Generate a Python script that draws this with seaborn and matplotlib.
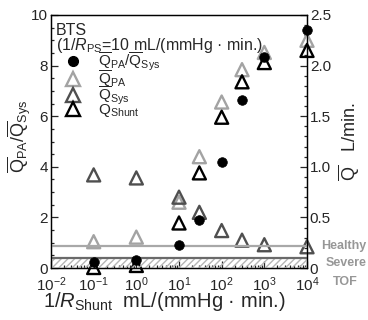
import numpy as np
import pandas as pd
import matplotlib
matplotlib.use("Agg")
import matplotlib.pyplot as plt
from matplotlib.lines import Line2D
from matplotlib.ticker import MultipleLocator, FixedLocator, FixedFormatter, LogLocator, NullFormatter
import seaborn as sns

# ---- data ----
shunt = [0.1, 1, 10, 30, 100, 300, 1000, 10000]          # 1/R_Shunt  mL/(mmHg·min.)
ratio = [0.25, 0.30, 0.90, 1.90, 4.19, 6.64, 8.34, 9.40]  # Q_PA/Q_Sys
q_pa = [0.26, 0.305, 0.65, 1.10, 1.64, 1.96, 2.13, 2.25]  # L/min
q_sys = [0.92, 0.89, 0.70, 0.55, 0.37, 0.275, 0.23, 0.21]
q_shunt = [0.005, 0.025, 0.445, 0.94, 1.49, 1.84, 2.03, 2.15]
healthy_level = 0.85
severe_level = 0.4
left_ticks = [0, 2, 4, 6, 8, 10]
right_ticks = [0, 0.5, 1.0, 1.5, 2.0, 2.5]
right_ticklabels = ["0", "0.5", "1.0", "1.5", "2.0", "2.5"]

df = pd.DataFrame({"shunt": shunt, "ratio": ratio, "q_pa": q_pa,
                   "q_sys": q_sys, "q_shunt": q_shunt})

sns.set_style("ticks")
plt.rcParams["font.family"] = ["Liberation Sans", "DejaVu Sans"]
plt.rcParams["mathtext.fontset"] = "custom"
plt.rcParams["mathtext.rm"] = "Liberation Sans"
plt.rcParams["mathtext.it"] = "Liberation Sans:italic"
plt.rcParams["mathtext.bf"] = "Liberation Sans:bold"

W, H = 368, 320
fig = plt.figure(figsize=(W / 100, H / 100), dpi=100)
ax = fig.add_axes([51 / W, 1 - 268 / H, 256 / W, 253 / H])
ax2 = ax.twinx()

C_PA = "#a3a3a3"
C_SYS = "#4f4f4f"
C_SH = "#000000"

# Q series on right axis (L/min)
for col, c in [("q_pa", C_PA), ("q_sys", C_SYS), ("q_shunt", C_SH)]:
    sns.scatterplot(data=df, x="shunt", y=col, ax=ax2, marker="^", s=88,
                    facecolor="none", edgecolor=c, linewidth=1.7,
                    clip_on=False, zorder=3, legend=False)

# reference levels + ratio on left axis
ax.axhspan(0, severe_level, facecolor="none", hatch="/////",
           edgecolor="#b5b5b5", linewidth=0, zorder=1)
ax.axhline(severe_level, color="#6a6a6a", lw=1.6, zorder=2)
ax.axhline(healthy_level, color="#a8a8a8", lw=1.6, zorder=2)
sns.scatterplot(data=df, x="shunt", y="ratio", ax=ax, marker="o", s=48,
                color="black", edgecolor="black", linewidth=0.5,
                clip_on=False, zorder=5, legend=False)

ax.set_zorder(ax2.get_zorder() + 1)
ax.patch.set_visible(False)

ax.set_xscale("log")
ax.set_xlim(1e-2, 1e4)
ax.set_ylim(0, 10)
ax2.set_ylim(0, 2.5)

ax.xaxis.set_major_locator(LogLocator(base=10, numticks=10))
ax.xaxis.set_minor_locator(LogLocator(base=10, subs=np.arange(2, 10), numticks=20))
ax.xaxis.set_minor_formatter(NullFormatter())
ax.yaxis.set_major_locator(FixedLocator(left_ticks))
ax.yaxis.set_minor_locator(MultipleLocator(0.5))
ax2.yaxis.set_major_locator(FixedLocator(right_ticks))
ax2.yaxis.set_major_formatter(FixedFormatter(right_ticklabels))
ax2.yaxis.set_minor_locator(MultipleLocator(0.1))

ax.tick_params(axis="both", which="both", direction="in", top=False, right=False,
               labelsize=11, width=0.9, pad=2)
ax.tick_params(axis="x", which="major", pad=5)
ax.tick_params(which="major", length=5)
ax.tick_params(which="minor", length=2.5)
ax2.tick_params(axis="y", which="both", direction="in", labelsize=11, width=0.9, pad=2)
ax2.tick_params(which="major", length=5)
ax2.tick_params(which="minor", length=2.5)
for a in (ax, ax2):
    for s in a.spines.values():
        s.set_visible(True)
        s.set_linewidth(0.9)
        s.set_color("black")

ax.set_xlabel(r"1/$R_{\mathrm{Shunt}}$  mL/(mmHg · min.)", fontsize=14.5)
ax.xaxis.set_label_coords(0.443, -0.085)
ax.set_ylabel(r"$\overline{\mathrm{Q}}_{\mathrm{PA}}/\overline{\mathrm{Q}}_{\mathrm{Sys}}$", fontsize=13)
ax.yaxis.set_label_coords(-0.07, 0.52)
ax2.set_ylabel(r"$\overline{\mathrm{Q}}$   L/min.", fontsize=13, rotation=90)
ax2.yaxis.set_label_coords(1.115, 0.5)
ax2.set_xlabel("")

# annotation text
ax.text(0.02, 0.94, "BTS", transform=ax.transAxes, fontsize=11.5, va="center", ha="left", zorder=6)
ax.text(0.02, 0.88, r"(1/$R_{\mathrm{PS}}$=10 mL/(mmHg · min.)", transform=ax.transAxes,
        fontsize=11.5, va="center", ha="left", zorder=6)

handles = [
    Line2D([], [], marker="o", ls="none", color="black", markersize=7),
    Line2D([], [], marker="^", ls="none", mfc="none", mec=C_PA, mew=1.7, markersize=9.4),
    Line2D([], [], marker="^", ls="none", mfc="none", mec=C_SYS, mew=1.7, markersize=9.4),
    Line2D([], [], marker="^", ls="none", mfc="none", mec=C_SH, mew=1.7, markersize=9.4),
]
labels = [r"$\overline{\mathrm{Q}}_{\mathrm{PA}}/\overline{\mathrm{Q}}_{\mathrm{Sys}}$",
          r"$\overline{\mathrm{Q}}_{\mathrm{PA}}$",
          r"$\overline{\mathrm{Q}}_{\mathrm{Sys}}$",
          r"$\mathrm{Q}_{\mathrm{Shunt}}$"]
leg = ax.legend(handles, labels, loc="upper left", bbox_to_anchor=(0.03, 0.87),
                frameon=False, fontsize=11, handlelength=1.5, handletextpad=0.9,
                labelspacing=-0.3, borderpad=0.2, borderaxespad=0)
leg.set_zorder(7)

# Healthy / Severe TOF labels
ax.annotate("Healthy", xy=(1, healthy_level), xycoords=("axes fraction", "data"),
            xytext=(37, 0), textcoords="offset pixels", ha="center", va="center",
            fontsize=9, fontweight="bold", color="#979797", annotation_clip=False)
fig.text(346 / W, 1 - 263 / H, "Severe", ha="center", va="center",
         fontsize=9, fontweight="bold", color="#979797")
fig.text(345 / W, 1 - 282 / H, "TOF", ha="center", va="center",
         fontsize=9, fontweight="bold", color="#979797")

fig.savefig("out.png", dpi=100)
